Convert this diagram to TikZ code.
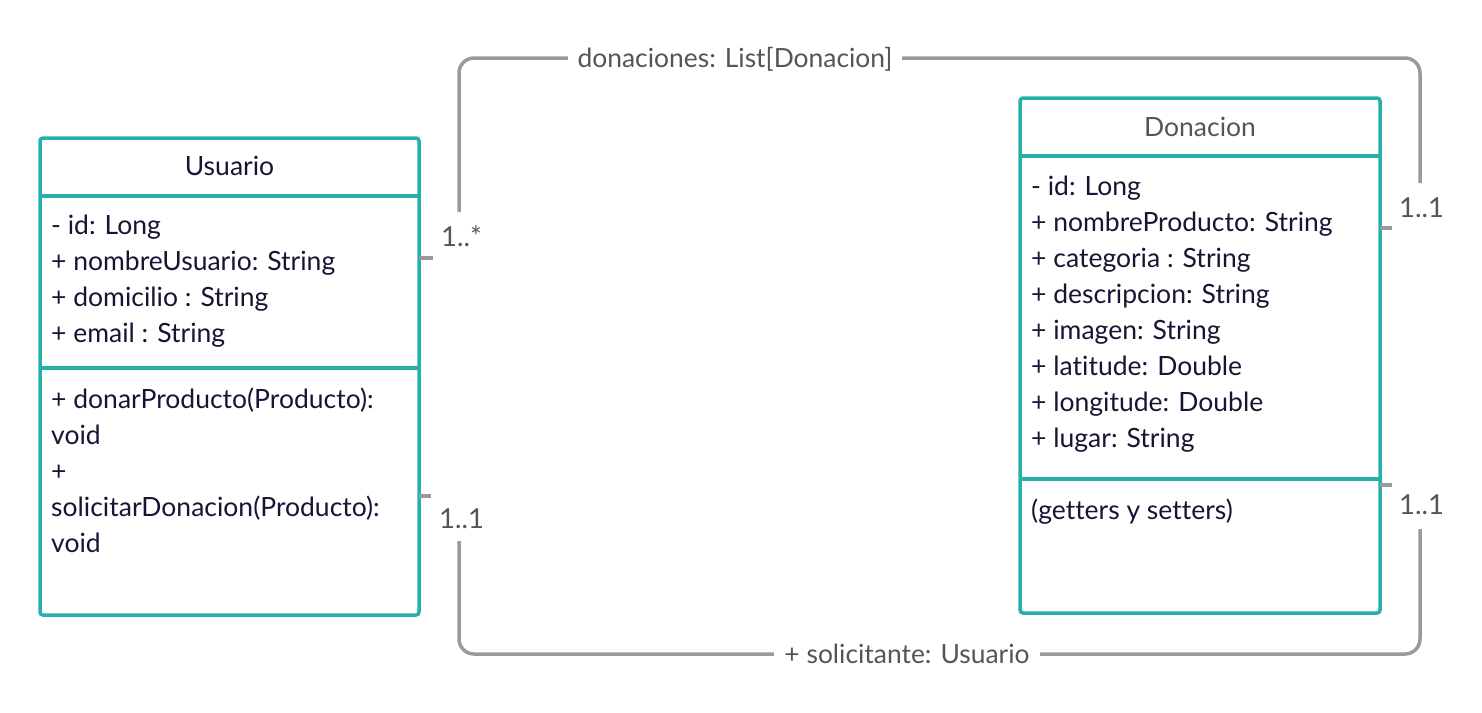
\documentclass[tikz,border=0pt]{standalone}
\usepackage{fontspec}
\setmainfont{Lato}[Ligatures=NoCommon]
\definecolor{tealb}{RGB}{38,176,172}
\definecolor{linegray}{RGB}{154,154,154}
\definecolor{labgray}{RGB}{85,85,85}
\definecolor{navy}{RGB}{22,22,52}
\begin{document}
\begin{tikzpicture}[x=1pt,y=-1pt,
  umlbox/.style={draw=tealb, line width=3.5pt, rounded corners=3pt, inner sep=0pt, fill=white},
  sepline/.style={draw=tealb, line width=3.5pt},
  attr/.style={anchor=base west, inner sep=0pt, font=\fontsize{26.5}{36}\selectfont, text=navy},
  ttl/.style={anchor=base, inner sep=0pt, font=\fontsize{26.5}{30}\selectfont},
  mult/.style={anchor=base west, inner sep=0pt, font=\fontsize{27.5}{30}\selectfont, text=labgray},
  conn/.style={draw=linegray, line width=3.5pt, rounded corners=15pt},
  stub/.style={draw=linegray, line width=3.5pt},
  clabel/.style={anchor=base, fill=white, inner xsep=10pt, inner ysep=3pt, font=\fontsize{26.4}{30}\selectfont, text=labgray}]
\useasboundingbox (0,0) rectangle (1482,712);

% boxes
\node[umlbox, minimum width=379pt, minimum height=477pt] (usuario) at (229.5,376.5) {};
\node[umlbox, minimum width=360pt, minimum height=515pt] (donacion) at (1200,355.5) {};
\draw[sepline] (40,196) -- (419,196);
\draw[sepline] (40,368) -- (419,368);
\draw[sepline] (1020,156) -- (1380,156);
\draw[sepline] (1020,479) -- (1380,479);

% Usuario texts
\node[ttl, text=navy] (ut) at (229.5,175) {Usuario};
\node[attr] (ua1) at (51,234) {- id: Long};
\node[attr] (ua2) at (51,270) {+ nombreUsuario: String};
\node[attr] (ua3) at (51,306) {+ domicilio : String};
\node[attr] (ua4) at (51,342) {+ email : String};
\node[attr] (um1) at (51,408) {+ donarProducto(Producto):};
\node[attr] (um2) at (51,444) {void};
\node[attr] (um3) at (51,480) {+};
\node[attr] (um4) at (51,516) {solicitarDonacion(Producto):};
\node[attr] (um5) at (51,552) {void};

% Donacion texts
\node[ttl, text=labgray] (dt) at (1200,136) {Donacion};
\node[attr] (da1) at (1031,195) {- id: Long};
\node[attr] (da2) at (1031,231) {+ nombreProducto: String};
\node[attr] (da3) at (1031,267) {+ categoria : String};
\node[attr] (da4) at (1031,303) {+ descripcion: String};
\node[attr] (da5) at (1031,339) {+ imagen: String};
\node[attr] (da6) at (1031,375) {+ latitude: Double};
\node[attr] (da7) at (1031,411) {+ longitude: Double};
\node[attr] (da8) at (1031,447) {+ lugar: String};
\node[attr] (dm1) at (1031,519) {(getters y setters)};

% multiplicities
\node[mult] (m1) at (441,246) {1..*};
\node[mult] (m2) at (439,528) {1..1};
\node[mult] (m3) at (1399,217) {1..1};
\node[mult] (m4) at (1399,514) {1..1};

% stub coordinates
\coordinate (s1a) at (419,258); \coordinate (s1b) at (433,258);
\coordinate (s2a) at (419,496); \coordinate (s2b) at (431,496);
\coordinate (s3a) at (1380,228); \coordinate (s3b) at (1392,228);
\coordinate (s4a) at (1380,485); \coordinate (s4b) at (1392,485);
\draw[stub] (s1a) -- (s1b);
\draw[stub] (s2a) -- (s2b);
\draw[stub] (s3a) -- (s3b);
\draw[stub] (s4a) -- (s4b);

% connectors
\coordinate (c1a) at (459,212); \coordinate (c1b) at (1420,183);
\coordinate (c2a) at (459,541); \coordinate (c2b) at (1420,529);
\draw[conn] (c1a) -- (459,58) -- (1420,58) -- (c1b);
\draw[conn] (c2a) -- (459,654) -- (1420,654) -- (c2b);
\node[clabel] (l1) at (735,67) {donaciones: List[Donacion]};
\node[clabel] (l2) at (907,663) {+ solicitante: Usuario};
\end{tikzpicture}
\end{document}
